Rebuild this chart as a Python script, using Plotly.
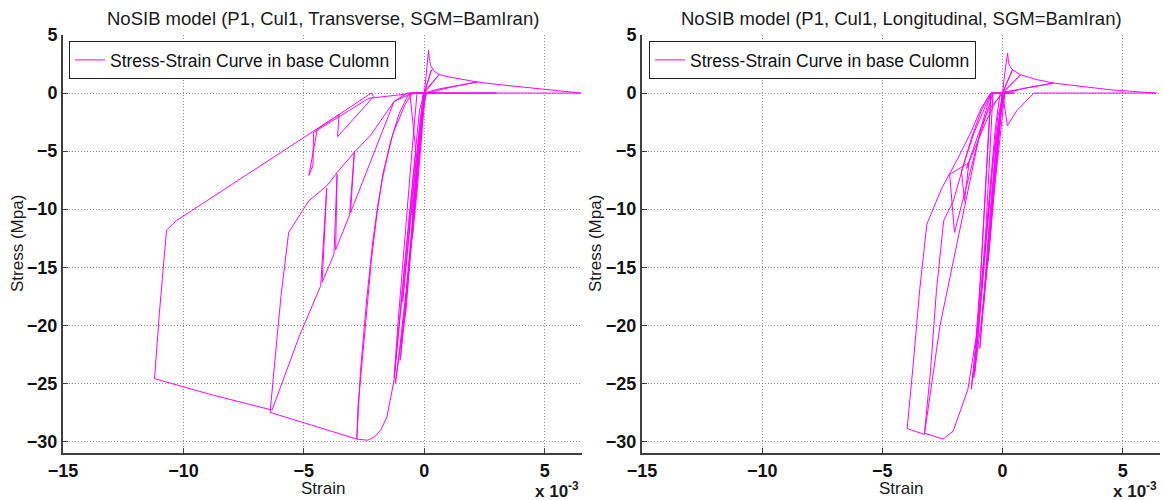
import plotly.graph_objects as go

# ---------------- data (strain in units of 1e-3, stress in MPa) ----------------
strain_transverse = [
    0.0, -0.12, -0.25, -0.05, 0.05, 0.12, 0.18, 0.21, 0.26, 0.40, 0.62, 1.0, 1.5, 2.2, 0.6, 0.0,
    -0.3, -0.5, -0.2, 0.0, 0.3, 0.0, 0.62, -0.05, -0.45, -0.7, -0.9, -0.5, -0.15, 0.1,
    1.2, 2.2, 3.0, 3.8, 5.0, 5.8, 6.5, 4.0, 1.5, -0.3,
    -0.55, -0.8, -1.0, -1.15, -1.25, -0.85, -0.45, -0.2, 0.0, -0.6,
    -0.35, -0.65, -0.95, -1.25, -1.55, -1.8, -2.05, -2.35, -2.8,
    -2.65, -2.4, -2.15, -1.95, -1.75, -1.4, -1.05, -0.7, -0.4, 0.5, -0.5,
    -0.8, -1.3, -1.7, -1.94, -2.2, -2.5, -2.75, -2.8,
    -4.5, -6.4,
    -6.2, -5.95, -5.63, -4.8, -4.03, -3.6, -2.86, -2.22, -1.25, -0.7, 0.2, 3.0, -0.5, -1.25,
    -2.43, -3.06, -2.9, -3.1, -3.68, -3.62, -3.75, -4.24, -4.05, -4.3, -5.2, -6.32,
    -8.8, -11.2, -11.0, -10.85, -10.7, -10.3,
    -3.54, -3.6, -2.1, -2.2, -4.44, -4.79, -4.62, -4.6, -2.3, -1.2, -0.5, 0.0,
    -0.4, -0.75, -1.05, -1.2, -0.8, -0.35, 0.0,
    -0.25, -0.55, -0.8, -1.0, -0.6, -0.3, 0.05,
    -0.2, -0.45, -0.7, -0.95, -0.75, -0.5, -0.25, 0.0,
    -0.1, -0.3, -0.5, -0.3, -0.1, 0.0,
]
stress_transverse = [
    0.0, -2.5, -5.5, -0.8, 1.2, 2.8, 3.7, 3.0, 2.4, 1.9, 1.6, 1.4, 1.2, 0.95, 0.35, 0.0,
    -6.5, -10.5, -3.8, 0.0, 2.0, 0.0, 1.6, 0.0, -8.5, -14.0, -18.0, -9.0, -2.0, 0.0,
    0.55, 0.95, 0.75, 0.57, 0.3, 0.12, 0.0, 0.0, 0.0, 0.0,
    -6.0, -12.0, -17.5, -21.5, -24.5, -15.5, -6.5, -1.5, 0.0, 0.0,
    -5.0, -11.5, -18.5, -24.7, -27.9, -29.0, -29.6, -29.9, -29.8,
    -24.0, -18.0, -13.0, -10.0, -7.5, -4.2, -1.8, -0.3, 0.0, 0.0, 0.0,
    -1.0, -3.5, -6.8, -10.0, -14.5, -21.0, -27.0, -29.8,
    -28.7, -27.5,
    -23.0, -17.5, -12.0, -9.3, -7.95, -6.8, -5.0, -3.6, -0.72, 0.0, 0.0, 0.0, 0.0, -0.72,
    -6.9, -10.3, -5.0, -10.5, -13.5, -7.0, -13.9, -16.3, -8.2, -16.6, -21.0, -27.3,
    -26.0, -24.6, -19.0, -15.0, -11.8, -11.0,
    -1.85, -3.76, -0.3, 0.0, -3.1, -7.1, -6.2, -3.4, -0.45, -0.2, 0.0, 0.0,
    -9.0, -17.0, -22.5, -25.0, -19.0, -9.0, 0.0,
    -6.0, -13.0, -19.0, -23.0, -14.0, -6.5, 0.0,
    -5.0, -11.0, -16.5, -21.5, -18.5, -12.0, -5.0, 0.0,
    -3.5, -8.5, -12.5, -7.0, -2.0, 0.0,
]

strain_longitudinal = [
    0.0, -0.15, -0.3, -0.1, 0.05, 0.15, 0.21, 0.24, 0.28, 0.41, 0.75, 1.44, 2.12, 0.1,
    -0.35, -0.6, -0.25, 0.0, 0.41, 0.0, 0.75, 0.0,
    -0.45, -0.75, -0.95, -0.6, -0.2, 0.1, 1.0, 2.12, 3.22, 4.45, 5.41, 6.4, 3.0, 1.3, 0.6, 0.2, 0.0,
    -0.48, -0.55, -0.7, -0.85, -1.0, -1.15, -1.3, -0.9, -0.55, -0.3, -0.1, 0.5, -0.48,
    -0.6, -0.75, -0.92, -1.1, -1.44, -2.05, -2.47, -3.25,
    -3.0, -2.75, -2.45, -2.05, -1.6, -1.3, -0.9, -0.62, -0.48, 0.3, -0.48,
    -0.89, -1.3, -1.85, -2.53, -3.15, -3.45, -3.7, -3.97, -3.25,
    -2.6, -1.6, -0.9, -0.48,
    -1.2, -1.71, -1.58, -1.4, -2.2, -2.0, -1.0, -0.4,
    -0.7, -0.95, -1.15, -0.8, -0.4, 0.0,
    -0.2, -0.4, -0.65, -0.9, -1.2, -0.95, -0.7, -0.45, -0.2, 0.05,
    -0.1, -0.3, -0.5, -0.8, -0.55, -0.25, 0.0,
    -0.6, -1.0, -1.5, -1.1, -0.7, -0.3, 0.0,
]
stress_longitudinal = [
    0.0, -3.5, -7.0, -2.0, 1.0, 2.6, 3.44, 2.8, 2.4, 2.0, 1.58, 1.15, 0.86, 0.1,
    -8.5, -14.5, -5.0, 0.0, 2.0, 0.0, 1.58, 0.0,
    -10.0, -17.0, -22.0, -13.0, -3.0, 0.0, 0.45, 0.86, 0.57, 0.29, 0.14, 0.0, 0.0, 0.0, -1.5, -2.8, 0.0,
    0.0, -2.5, -8.0, -14.0, -19.0, -23.0, -25.5, -17.0, -9.0, -3.0, 0.0, 0.0, 0.0,
    -4.0, -10.0, -16.0, -21.0, -25.5, -29.1, -29.8, -29.3,
    -24.0, -17.0, -11.0, -9.3, -6.0, -3.9, -1.6, -0.4, 0.0, 0.0, 0.0,
    -1.3, -3.3, -5.6, -8.2, -11.3, -17.0, -23.0, -28.9, -29.4,
    -20.0, -10.0, -3.0, 0.0,
    -3.5, -6.7, -9.3, -6.0, -7.0, -12.0, -4.0, 0.0,
    -12.0, -19.0, -24.0, -16.0, -6.0, 0.0,
    -4.0, -9.0, -15.0, -20.0, -24.5, -19.0, -13.0, -7.0, -2.0, 0.0,
    -2.5, -7.5, -12.0, -18.5, -11.0, -4.0, 0.0,
    -1.5, -3.5, -6.5, -4.5, -2.5, -0.8, 0.0,
]

titles = [
    "NoSIB model (P1, Cul1, Transverse, SGM=BamIran)",
    "NoSIB model (P1, Cul1, Longitudinal, SGM=BamIran)",
]
legend_label = "Stress-Strain Curve in base Culomn"
x_ticks = [-15, -10, -5, 0, 5]
y_ticks = [5, 0, -5, -10, -15, -20, -25, -30]

# ---------------- layout geometry ----------------
W, H = 1164, 500
FONT = "Liberation Sans, Arial, sans-serif"
MAG = "#FF00FF"

def px_x(p):
    return p / W

def px_y(p):
    return 1 - p / H

left_dom = [px_x(63), px_x(582)]
right_dom = [px_x(642), px_x(1160)]
y_dom = [px_y(453), px_y(35)]

fig = go.Figure()
fig.add_trace(go.Scatter(x=strain_transverse, y=stress_transverse, mode="lines",
                         line=dict(color=MAG, width=1), name=legend_label,
                         xaxis="x", yaxis="y", legend="legend", showlegend=True))
fig.add_trace(go.Scatter(x=strain_longitudinal, y=stress_longitudinal, mode="lines",
                         line=dict(color=MAG, width=1), name=legend_label,
                         xaxis="x2", yaxis="y2", legend="legend2", showlegend=True))

axis_common = dict(
    showline=True, linecolor="#404040", linewidth=2, mirror=False,
    ticks="inside", ticklen=5, tickcolor="#404040", tickwidth=1,
    showgrid=True, gridcolor="#8c8c8c", griddash="1px,2px", gridwidth=1,
    zeroline=False, automargin=False,
    tickfont=dict(family=FONT, size=18, color="#111", weight="bold"),
)

legend_common = dict(xanchor="left", yanchor="top", bgcolor="white",
                     bordercolor="#222", borderwidth=1,
                     font=dict(family=FONT, size=17.5, color="#111"))

fig.update_layout(
    template="none",
    width=W, height=H,
    margin=dict(l=0, r=0, t=0, b=0, autoexpand=False),
    paper_bgcolor="white", plot_bgcolor="white",
    showlegend=True,
    xaxis=dict(domain=left_dom, range=[-15, 6.55], tickvals=x_ticks, anchor="y", **axis_common),
    yaxis=dict(domain=y_dom, range=[-31, 5], tickvals=y_ticks, anchor="x", **axis_common),
    xaxis2=dict(domain=right_dom, range=[-15, 6.55], tickvals=x_ticks, anchor="y2", **axis_common),
    yaxis2=dict(domain=y_dom, range=[-31, 5], tickvals=y_ticks, anchor="x2", **axis_common),
    legend=dict(x=px_x(69), y=px_y(41), **legend_common),
    legend2=dict(x=px_x(649), y=px_y(41), **legend_common),
)

annotations = []
for dom, title in [(left_dom, titles[0]), (right_dom, titles[1])]:
    cx = (dom[0] + dom[1]) / 2
    annotations.append(dict(text=title, x=cx, y=px_y(18), xref="paper", yref="paper",
                            showarrow=False, xanchor="center", yanchor="middle",
                            font=dict(family=FONT, size=18.5, color="#1a1a1a")))
    annotations.append(dict(text="Strain", x=cx, y=px_y(488), xref="paper", yref="paper",
                            showarrow=False, xanchor="center", yanchor="middle",
                            font=dict(family=FONT, size=17, color="#1a1a1a")))
    annotations.append(dict(text="x 10<sup>-3</sup>", x=dom[1] - px_x(1), y=px_y(490),
                            xref="paper", yref="paper", showarrow=False,
                            xanchor="right", yanchor="middle",
                            font=dict(family=FONT, size=17, color="#1a1a1a", weight="bold")))
for xp in [17, 595]:
    annotations.append(dict(text="Stress (Mpa)", x=px_x(xp), y=px_y(244), xref="paper", yref="paper",
                            showarrow=False, textangle=-90, xanchor="center", yanchor="middle",
                            font=dict(family=FONT, size=17, color="#1a1a1a")))
fig.update_layout(annotations=annotations)

fig.write_html("out.html")
